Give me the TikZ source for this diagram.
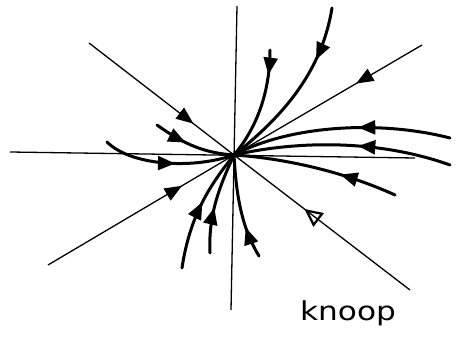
\documentclass[tikz,border=0pt]{standalone}
\usepackage{fontspec}
\newfontfamily\handfont{DejaVu Sans}
\usetikzlibrary{decorations.markings,arrows.meta}
\tikzset{
  axisline/.style={line width=1.3pt},
  traj/.style={line width=3pt, line cap=round},
  arrowat/.style={postaction={decorate},decoration={markings,
    mark=at position #1 with {\arrow{Triangle[length=15pt,width=12pt,scale=1.15]}}}},
  openarrowat/.style={postaction={decorate},decoration={markings,
    mark=at position #1 with {\arrow[line width=2.2pt]{Triangle[open,length=15pt,width=14pt,scale=1.2]}}}},
  label/.style={font=\handfont\fontsize{26}{26}\selectfont, xscale=1.2, inner sep=0pt}
}
\begin{document}
\begin{tikzpicture}[x=1pt,y=-1pt]
\useasboundingbox (0,0) rectangle (460,339);
\coordinate (O) at (234,155);
% axes
\coordinate (xl) at (10,152);
\coordinate (xr) at (415,158);
\coordinate (yt) at (237,6);
\coordinate (yb) at (231,310);
\draw[axisline] (xl) -- (xr);
\draw[axisline] (yt) -- (yb);
% diagonals (eigen-directions)
\coordinate (d1a) at (89,43);
\coordinate (d1b) at (410,290);
\coordinate (d2a) at (48,265);
\coordinate (d2b) at (422,45);
\draw[axisline, arrowat=0.72] (d1a) -- (O);
\draw[axisline, openarrowat=0.6] (d1b) -- (O);
\draw[axisline, arrowat=0.72] (d2a) -- (O);
\draw[axisline, arrowat=0.35] (d2b) -- (O);
% trajectories
\coordinate (ta) at (270,50);
\coordinate (tb) at (332,8);
\coordinate (tc) at (450,138);
\coordinate (td) at (450,165);
\coordinate (te) at (395,195);
\coordinate (tf) at (157,125);
\coordinate (tg) at (107,142);
\coordinate (th) at (182,268);
\coordinate (ti) at (210,253);
\coordinate (tj) at (259,256);
\draw[traj, arrowat=0.22] (ta) .. controls (270,95) and (255,130) .. (O);
\draw[traj, arrowat=0.3] (tb) .. controls (322,70) and (285,115) .. (O);
\draw[traj, arrowat=0.42] (tc) .. controls (380,120) and (290,125) .. (O);
\draw[traj, arrowat=0.43] (td) .. controls (380,140) and (300,140) .. (O);
\draw[traj, arrowat=0.35] (te) .. controls (340,170) and (280,158) .. (O);
\draw[traj, arrowat=0.4] (tf) .. controls (185,145) and (205,153) .. (O);
\draw[traj, arrowat=0.55] (tg) .. controls (130,165) and (190,170) .. (O);
\draw[traj, arrowat=0.55] (th) .. controls (190,215) and (210,185) .. (O);
\draw[traj, arrowat=0.45] (ti) .. controls (208,215) and (220,185) .. (O);
\draw[traj, arrowat=0.3] (tj) .. controls (240,225) and (236,190) .. (O);
% label
\node[label, anchor=base] (lab) at (348,320) {knoop};
\end{tikzpicture}
\end{document}
